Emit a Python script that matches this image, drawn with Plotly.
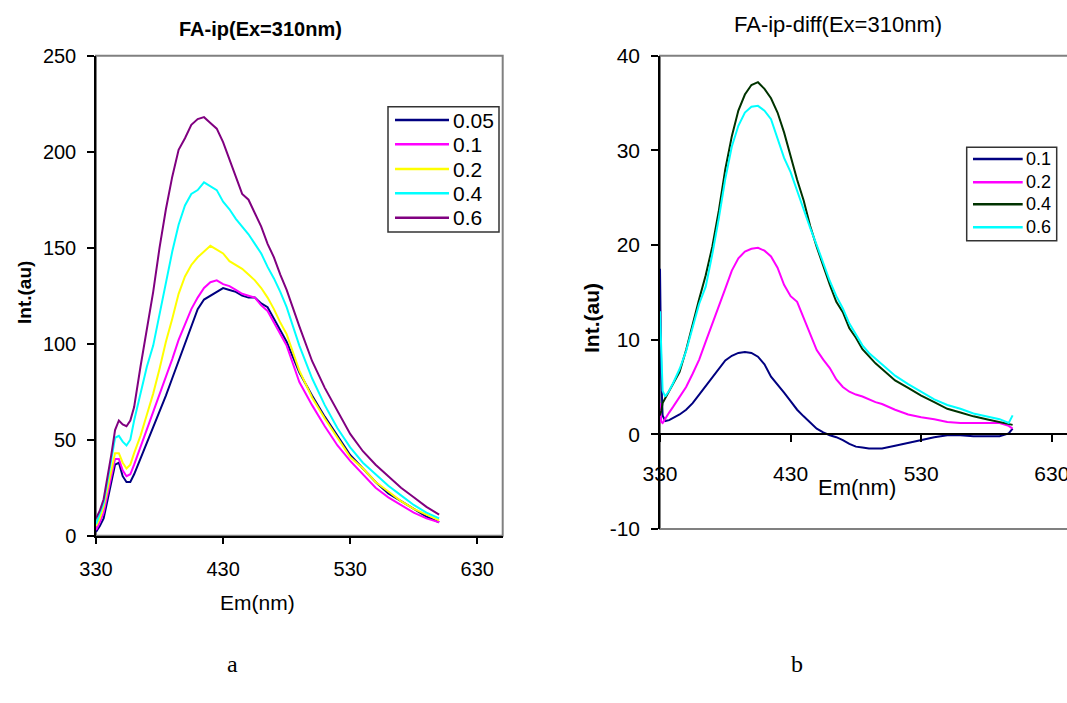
import plotly.graph_objects as go

W, H = 1067, 703

# ---------------- Panel a data ----------------
wl_a = [330, 333, 336, 339, 342, 345, 348, 351, 354, 357, 360,
        365, 370, 375, 380, 385, 390, 395, 400, 405, 410, 415, 420, 425, 430,
        435, 440, 445, 450, 455, 460, 465, 470, 475,
        480, 490, 500, 510, 520, 530, 540, 550, 560, 570, 580, 590, 600]
a_005 = [2, 5, 9, 19, 28, 37, 38, 31, 28, 28, 32,
         40, 48, 57, 65, 73, 82, 91, 100, 109, 118, 123, 125, 127, 129,
         128, 127, 125, 124, 124, 121, 119, 113, 107,
         101, 85, 73, 62, 52, 42, 35, 28, 22, 18, 14, 10, 7]
a_01 = [3, 7, 12, 22, 31, 40, 40, 34, 31, 32, 37,
        46, 55, 64, 73, 83, 92, 102, 110, 118, 124, 129, 132, 133, 131,
        130, 128, 126, 125, 124, 120, 117, 111, 105,
        99, 80, 68, 57, 47, 39, 32, 25, 20, 16, 12, 9, 7]
a_02 = [5, 9, 15, 25, 34, 43, 43, 38, 35, 37, 43,
        52, 63, 74, 87, 101, 113, 126, 135, 141, 145, 148, 151, 149, 147,
        143, 141, 139, 136, 133, 129, 124, 118, 111,
        105, 86, 72, 61, 51, 41, 35, 28, 23, 18, 14, 11, 8]
a_04 = [6, 11, 17, 28, 40, 51, 52, 49, 47, 50, 60,
        74, 88, 99, 116, 131, 148, 162, 172, 178, 180, 184, 182, 180, 174,
        170, 165, 161, 157, 152, 147, 140, 134, 127,
        119, 99, 82, 68, 56, 46, 38, 32, 26, 21, 16, 12, 9]
a_06 = [9, 13, 19, 30, 42, 55, 60, 58, 57, 60, 67,
        88, 107, 127, 150, 170, 187, 201, 207, 214, 217, 218, 215, 212, 205,
        196, 188, 178, 175, 168, 161, 152, 145, 136,
        128, 109, 91, 77, 65, 53, 44, 37, 31, 25, 20, 15, 11]
names_a = ["0.05", "0.1", "0.2", "0.4", "0.6"]
series_a = [a_005, a_01, a_02, a_04, a_06]
colors_a = ["#000080", "#FF00FF", "#FFFF00", "#00FFFF", "#800080"]

# ---------------- Panel b data ----------------
wl_b = [330, 331, 332, 334, 337, 340,
        345, 350, 355, 360, 365, 370, 375, 380, 385, 390, 395, 400, 405, 410,
        415, 420, 425, 430, 435, 440, 445, 450, 455, 460, 465, 470, 475, 480,
        485, 490, 495, 500,
        510, 520, 530, 540, 550, 560, 570, 580, 590, 597, 600]
b_01 = [17.5, 6.0, 2.0, 1.4, 1.5, 1.7,
        2.1, 2.6, 3.3, 4.2, 5.1, 6.1, 7.0, 7.8, 8.3, 8.6, 8.7, 8.6, 8.2, 7.4,
        6.1, 5.3, 4.4, 3.5, 2.6, 1.9, 1.2, 0.6, 0.2, -0.1, -0.3, -0.6, -1.0, -1.3,
        -1.4, -1.5, -1.5, -1.5,
        -1.2, -0.9, -0.6, -0.3, -0.1, -0.1, -0.2, -0.2, -0.2, 0.1, 0.6]
b_02 = [3.3, 1.3, 1.2, 1.7, 2.3, 2.9,
        3.9, 5.0, 6.4, 7.9, 9.8, 11.6, 13.5, 15.4, 17.3, 18.6, 19.3, 19.6, 19.7, 19.4,
        18.8, 17.6, 15.8, 14.6, 14.0, 12.3, 10.6, 8.9, 7.9, 7.0, 5.8, 5.0, 4.5, 4.2,
        4.0, 3.7, 3.4, 3.2,
        2.6, 2.1, 1.8, 1.6, 1.3, 1.2, 1.2, 1.2, 1.2, 0.9, 0.6]
b_04 = [2.0, 2.5, 3.3, 3.8, 4.5, 5.2,
        6.6, 8.9, 11.7, 14.3, 16.8, 19.8, 23.6, 28.0, 31.5, 34.2, 35.9, 36.9, 37.2, 36.5,
        35.5, 34.0, 31.9, 29.4, 26.9, 24.7, 22.0, 19.8, 17.7, 15.8, 14.0, 12.9, 11.2, 10.2,
        9.0, 8.2, 7.5, 6.9,
        5.7, 4.9, 4.1, 3.4, 2.7, 2.3, 1.9, 1.6, 1.3, 1.1, 1.0]
b_06 = [13.0, 8.0, 4.6, 4.0, 4.6, 5.4,
        6.9, 8.8, 11.2, 13.8, 15.6, 19.0, 22.8, 27.0, 30.4, 32.6, 34.0, 34.6, 34.7, 34.2,
        33.3, 31.2, 29.2, 27.7, 25.7, 23.8, 21.8, 20.0, 18.0, 16.2, 14.6, 13.3, 11.7, 10.6,
        9.4, 8.6, 8.0, 7.4,
        6.2, 5.3, 4.5, 3.7, 3.1, 2.7, 2.2, 1.9, 1.6, 1.2, 2.0]
names_b = ["0.1", "0.2", "0.4", "0.6"]
series_b = [b_01, b_02, b_04, b_06]
colors_b = ["#000080", "#FF00FF", "#003300", "#00FFFF"]

x_ticks = [330, 430, 530, 630]
ya_ticks = [0, 50, 100, 150, 200, 250]
yb_ticks = [-10, 0, 10, 20, 30, 40]


def px(x):
    return x / W


def py(y):
    return 1 - y / H


FONT = "Liberation Sans, Arial, sans-serif"

fig = go.Figure()
for n, s, c in zip(names_a, series_a, colors_a):
    fig.add_trace(go.Scatter(x=wl_a, y=s, mode="lines", name=n,
                             line=dict(color=c, width=2),
                             xaxis="x", yaxis="y", showlegend=False))
for n, s, c in zip(names_b, series_b, colors_b):
    fig.add_trace(go.Scatter(x=wl_b, y=s, mode="lines", name=n,
                             line=dict(color=c, width=2),
                             xaxis="x2", yaxis="y2", showlegend=False))

# panel geometry (pixels)
aL, aR, aT, aB = 96, 502.7, 55.7, 535.7
bL, bR, bT, bB = 660, 1067, 55.7, 529
b_zero = 434.3
b_xmax = 330 + (bR - bL) / 1.306

axis_common = dict(showgrid=False, zeroline=False, showline=True, automargin=False,
                   linecolor="#000000", linewidth=1.5, ticks="outside",
                   ticklen=7, tickcolor="#000000", tickwidth=1.5,
                   ticklabeloverflow="allow")

fig.update_layout(
    template="none",
    width=W, height=H,
    margin=dict(l=0, r=0, t=0, b=0, pad=0),
    paper_bgcolor="white", plot_bgcolor="white",
    showlegend=False,
    font=dict(family=FONT, color="black"),
    xaxis=dict(domain=[px(aL), px(aR)], range=[330, 650], tickvals=x_ticks,
               ticktext=[str(v) for v in x_ticks],
               anchor="y", tickfont=dict(size=20, family=FONT),
               ticklabelstandoff=8, **axis_common),
    yaxis=dict(domain=[py(aB), py(aT)], range=[0, 250], tickvals=ya_ticks,
               ticktext=[str(v) for v in ya_ticks],
               anchor="x", tickfont=dict(size=20, family=FONT),
               ticklabelstandoff=7, **axis_common),
    xaxis2=dict(domain=[px(bL), px(bR)], range=[330, b_xmax], tickvals=x_ticks,
                ticktext=[str(v) for v in x_ticks],
                anchor="free", position=py(b_zero),
                tickfont=dict(size=21, family=FONT),
                ticklabelstandoff=14, **axis_common),
    yaxis2=dict(domain=[py(bB), py(bT)], range=[-10, 40], tickvals=yb_ticks,
                ticktext=[str(v) for v in yb_ticks],
                anchor="x2", tickfont=dict(size=21, family=FONT),
                ticklabelstandoff=7, **axis_common),
)

shapes = []
# gray plot-area frames
shapes.append(dict(type="rect", xref="x domain", yref="y domain", x0=0, x1=1, y0=0, y1=1,
                   line=dict(color="#808080", width=2), layer="below"))
shapes.append(dict(type="rect", xref="x2 domain", yref="y2 domain", x0=0, x1=1.02, y0=0, y1=1,
                   line=dict(color="#808080", width=2), layer="below"))

annotations = []


def legend(names, colors, box, x_line0, x_line1, x_text, rows, fsize):
    x0, y0, x1, y1 = box
    shapes.append(dict(type="rect", xref="paper", yref="paper",
                       x0=px(x0), x1=px(x1), y0=py(y1), y1=py(y0),
                       line=dict(color="#333333", width=1.5), fillcolor="white"))
    for n, c, r in zip(names, colors, rows):
        shapes.append(dict(type="line", xref="paper", yref="paper",
                           x0=px(x_line0), x1=px(x_line1), y0=py(r), y1=py(r),
                           line=dict(color=c, width=2.5)))
        annotations.append(dict(text=n, xref="paper", yref="paper", x=px(x_text), y=py(r),
                                xanchor="left", yanchor="middle", showarrow=False,
                                font=dict(size=fsize, family=FONT, color="black")))


legend(names_a, colors_a, (388, 106.7, 499, 232), 395, 449, 451,
       [120, 144.3, 169, 193.3, 217.7], 21)
legend(names_b, colors_b, (966.7, 147.3, 1056.7, 240.7), 973, 1022.7, 1024,
       [159, 182.3, 204.3, 227.3], 18)


def label(text, x, y, size, bold=False, angle=0, family=FONT):
    annotations.append(dict(text=f"<b>{text}</b>" if bold else text,
                            xref="paper", yref="paper", x=px(x), y=py(y),
                            xanchor="center", yanchor="middle", showarrow=False,
                            textangle=angle,
                            font=dict(size=size, family=family, color="black")))


label("FA-ip(Ex=310nm)", 260, 29, 20, bold=True)
label("FA-ip-diff(Ex=310nm)", 838, 25, 22)
label("Int.(au)", 24, 293, 19, bold=True, angle=-90)
label("Int.(au)", 591, 318, 21, bold=True, angle=-90)
label("Em(nm)", 257, 602, 21)
label("Em(nm)", 857, 487, 22)
label("a", 232, 664, 24, family="Liberation Serif, Times New Roman, serif")
label("b", 797, 664, 24, family="Liberation Serif, Times New Roman, serif")

fig.update_layout(shapes=shapes, annotations=annotations)
fig.write_html("out.html")
